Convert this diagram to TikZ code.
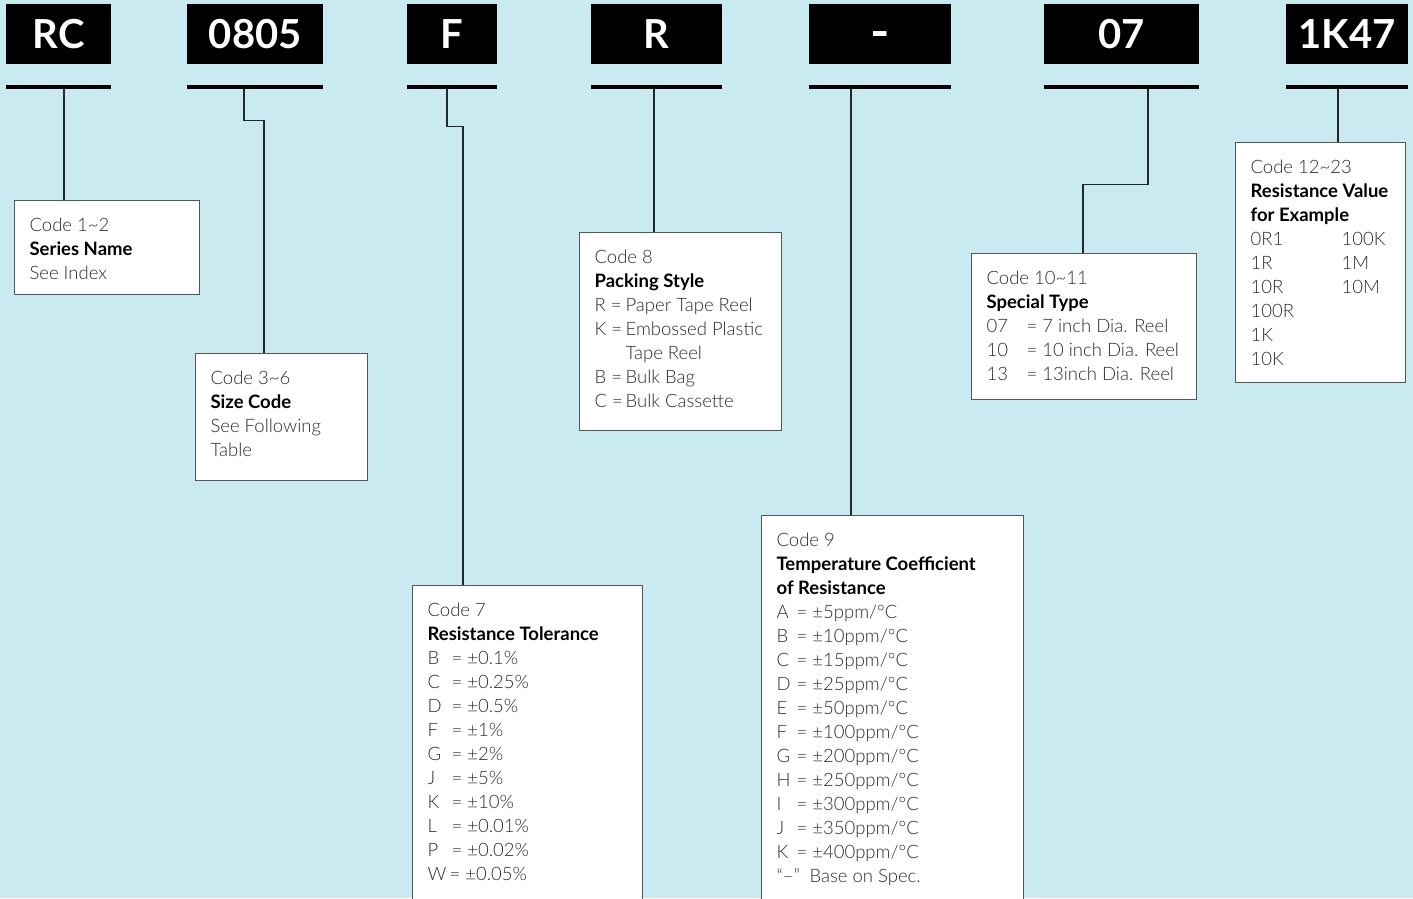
\documentclass[tikz,border=0pt]{standalone}
\usepackage{fontspec}
\setmainfont{Lato}[UprightFont=* Light, BoldFont=* Bold]
\usepackage{tikz}
\usetikzlibrary{positioning}
\definecolor{bgblue}{RGB}{201,234,241}
\definecolor{boxline}{RGB}{85,85,85}
\definecolor{bodygray}{RGB}{45,45,45}
\tikzstyle{codehead} = [rectangle, anchor=north west, minimum height=60, inner sep=0, text height=29, text depth=0, fill=black, text=white, font=\bfseries\fontsize{40}{40}\selectfont]
\tikzstyle{codebar} = [rectangle, anchor=north west, minimum height=4, inner sep=0, fill=black]
\tikzstyle{codebox} = [rectangle, anchor=north west, inner xsep=15, inner ysep=0, draw=boxline, line width=1.2, fill=white, text=bodygray]
\tikzstyle{link} = [line width=1.2, draw=black!85]
\newcommand{\codetext}[3]{\parbox[c][#2pt][t]{#1pt}{\raggedright\fontsize{18.5}{24}\selectfont\rule{0pt}{31pt}#3}}
\newcommand{\boxtitle}[1]{{\color{black}\bfseries #1}}
\newcommand{\coderow}[3]{\makebox[#1pt][l]{#2}#3}

\begin{document}
\begin{tikzpicture}[x=1pt, y=-1pt]
    % Background
    \fill [bgblue] (0,0) rectangle (1413,898);
    \useasboundingbox (0,0) rectangle (1413,898);

    % Code letters
    \node (headrc) [codehead, minimum width=105] at (6,4) {RC};
    \node (head0805) [codehead, minimum width=136] at (187,4) {0805};
    \node (headf) [codehead, minimum width=90] at (407,4) {F};
    \node (headr) [codehead, minimum width=131] at (591,4) {R};
    \node (headdash) [codehead, minimum width=142] at (809,4) {\scalebox{1.3}[1.2]{-}};
    \node (head07) [codehead, minimum width=155] at (1044,4) {07};
    \node (head1k47) [codehead, minimum width=122] at (1286,4) {1K47};

    % Bars
    \node (barrc) [codebar, minimum width=105] at (6,85) {};
    \node (bar0805) [codebar, minimum width=136] at (187,85) {};
    \node (barf) [codebar, minimum width=90] at (407,85) {};
    \node (barr) [codebar, minimum width=131] at (591,85) {};
    \node (bardash) [codebar, minimum width=142] at (809,85) {};
    \node (bar07) [codebar, minimum width=155] at (1044,85) {};
    \node (bar1k47) [codebar, minimum width=122] at (1286,85) {};

    % Code 1~2
    \node (series) [codebox] at (14,200) {\codetext{155}{94}{Code 1\textasciitilde 2\\
        \boxtitle{Series Name}\\
        See Index}};

    % Code 3~6
    \node (sizecode) [codebox] at (195,353) {\codetext{142}{127}{Code 3\textasciitilde 6\\
        \boxtitle{Size Code}\\
        See Following\\
        Table}};

    % Code 7
    \node (tolerance) [codebox] at (412,585) {\codetext{200}{330}{Code 7\\
        \boxtitle{Resistance Tolerance}\\
        \coderow{24}{B}{= ±0.1\%}\\
        \coderow{24}{C}{= ±0.25\%}\\
        \coderow{24}{D}{= ±0.5\%}\\
        \coderow{24}{F}{= ±1\%}\\
        \coderow{24}{G}{= ±2\%}\\
        \coderow{24}{J}{= ±5\%}\\
        \coderow{24}{K}{= ±10\%}\\
        \coderow{24}{L}{= ±0.01\%}\\
        \coderow{24}{P}{= ±0.02\%}\\
        \coderow{22}{W}{= ±0.05\%}}};

    % Code 8
    \node (packing) [codebox] at (579,232) {\codetext{172}{198}{Code 8\\
        \boxtitle{Packing Style}\\
        \coderow{31}{R =}{Paper Tape Reel}\\
        \coderow{31}{K =}{Embossed Plastic}\\
        \coderow{31}{}{Tape Reel}\\
        \coderow{31}{B =}{Bulk Bag}\\
        \coderow{31}{C =}{Bulk Cassette}}};

    % Code 9
    \node (tempco) [codebox] at (761,515) {\codetext{232}{400}{Code 9\\
        \boxtitle{Temperature Coefficient}\\
        \boxtitle{of Resistance}\\
        \coderow{20}{A}{= ±5ppm/°C}\\
        \coderow{20}{B}{= ±10ppm/°C}\\
        \coderow{20}{C}{= ±15ppm/°C}\\
        \coderow{20}{D}{= ±25ppm/°C}\\
        \coderow{20}{E}{= ±50ppm/°C}\\
        \coderow{20}{F}{= ±100ppm/°C}\\
        \coderow{20}{G}{= ±200ppm/°C}\\
        \coderow{20}{H}{= ±250ppm/°C}\\
        \coderow{20}{I}{= ±300ppm/°C}\\
        \coderow{20}{J}{= ±350ppm/°C}\\
        \coderow{20}{K}{= ±400ppm/°C}\\
        \coderow{33}{“–”}{Base on Spec.}}};

    % Code 10~11
    \node (specialtype) [codebox] at (971,253) {\codetext{195}{146}{Code 10\textasciitilde 11\\
        \boxtitle{Special Type}\\
        \coderow{40}{07}{= 7 inch Dia. Reel}\\
        \coderow{40}{10}{= 10 inch Dia. Reel}\\
        \coderow{40}{13}{= 13inch Dia. Reel}}};

    % Code 12~23
    \node (resvalue) [codebox] at (1235,142) {\codetext{140}{240}{Code 12\textasciitilde 23\\
        \boxtitle{Resistance Value}\\
        \boxtitle{for Example}\\
        \coderow{91}{0R1}{100K}\\
        \coderow{91}{1R}{1M}\\
        \coderow{91}{10R}{10M}\\
        100R\\
        1K\\
        10K}};

    % Links
    \draw [link] ([xshift=58]barrc.south west) -- ([xshift=58]barrc.south west |- series.north);
    \draw [link] ([xshift=57]bar0805.south west) -- ++(0,31) -| ([xshift=69]sizecode.north west);
    \draw [link] ([xshift=40]barf.south west) -- ++(0,37) -| ([xshift=51]tolerance.north west);
    \draw [link] ([xshift=63]barr.south west) -- ([xshift=63]barr.south west |- packing.north);
    \draw [link] ([xshift=42]bardash.south west) -- ([xshift=42]bardash.south west |- tempco.north);
    \draw [link] ([xshift=104]bar07.south west) -- ++(0,95) -| ([xshift=112]specialtype.north west);
    \draw [link] ([xshift=52]bar1k47.south west) -- ([xshift=52]bar1k47.south west |- resvalue.north);
\end{tikzpicture}
\end{document}
